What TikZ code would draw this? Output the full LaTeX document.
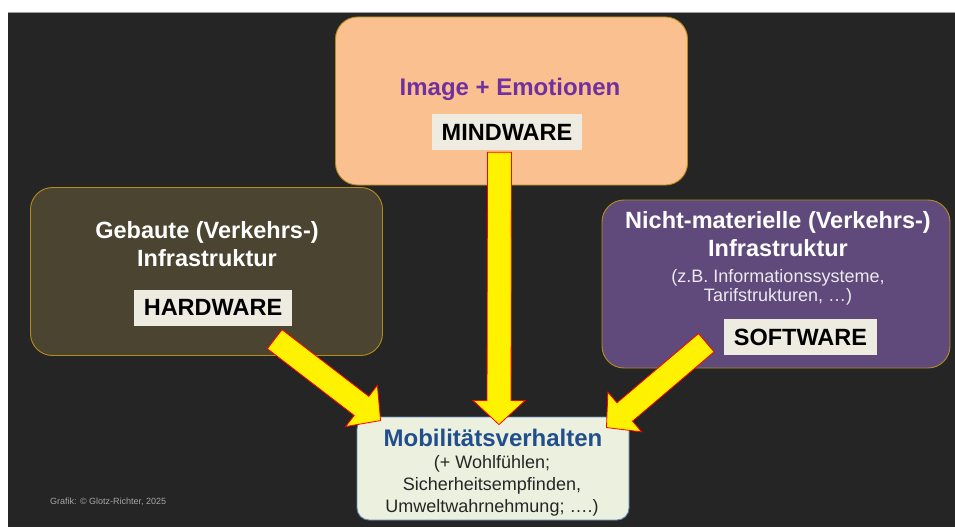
\documentclass[tikz,border=0pt]{standalone}
\usepackage{fontspec}
\setmainfont{Liberation Sans}
\usetikzlibrary{positioning, calc}
\definecolor{bgdark}{RGB}{37,37,37}
\definecolor{mwfill}{RGB}{250,192,144}
\definecolor{hwfill}{RGB}{74,68,48}
\definecolor{swfill}{RGB}{96,74,123}
\definecolor{mbfill}{RGB}{235,241,222}
\definecolor{tagfill}{RGB}{238,236,225}
\definecolor{goldline}{RGB}{180,140,30}
\definecolor{mwtext}{RGB}{112,48,160}
\definecolor{mbtext}{RGB}{33,78,140}
\definecolor{mbline}{RGB}{100,135,180}

% fat block arrow: #1 start, #2 tip
\newcommand\fatarrow[2]{%
  \path ($(#2)!24pt!(#1)$) coordinate (hb);
  \draw[fat] ($(#1)!12pt!90:(#2)$) -- ($(hb)!12pt!90:(#2)$)
    -- ($(hb)!26pt!90:(#2)$) -- (#2) -- ($(hb)!26pt!-90:(#2)$)
    -- ($(hb)!12pt!-90:(#2)$) -- ($(#1)!12pt!-90:(#2)$) -- cycle;}

\begin{document}
\begin{tikzpicture}[
  x=1pt, y=-1pt,
  every node/.style={inner sep=0pt},
  box/.style={rectangle, rounded corners=22pt, draw=goldline, line width=0.9pt,
              minimum width=352pt, minimum height=168pt},
  tag/.style={rectangle, fill=tagfill, text=black,
              font=\bfseries\fontsize{23.5}{26}\selectfont,
              minimum height=36pt},
  title/.style={text=white, font=\bfseries\fontsize{23.5}{28}\selectfont, align=center},
  sub/.style={font=\fontsize{18}{21.5}\selectfont, align=center},
  fat/.style={fill=yellow, draw=red, line width=0.8pt, line join=miter},
]
\useasboundingbox (0,0) rectangle (955,527);
\fill[white] (0,0) rectangle (955,527);
\fill[bgdark] (8,12) rectangle (955,527);
\draw[gray!75, line width=1pt] (8,12.5) -- (955,12.5);

% ── Mindware (top) ──
\node[box, fill=mwfill] (mwbox) at (511.5,101) {};
\node[text=mwtext, font=\bfseries\fontsize{24}{28}\selectfont] (mwtitle) at (510,89) {Image + Emotionen};
\node[tag, minimum width=150pt] (mw) at (507,132) {MINDWARE};

% ── Hardware (left) ──
\node[box, fill=hwfill] (hwbox) at (206.5,271.5) {};
\node[title] (hwtitle) at (207,244) {Gebaute (Verkehrs-)\\Infrastruktur};
\node[tag, minimum width=158pt] (hw) at (213,307.5) {HARDWARE};

% ── Software (right) ──
\node[box, fill=swfill, minimum width=348pt] (swbox) at (776,284) {};
\node[title] (swtitle) at (778,234.5) {Nicht-materielle (Verkehrs-)\\Infrastruktur};
\node[sub, text=white!88!swfill] (swsub) at (778,287) {(z.B. Informationssysteme,\\[-2.5pt]Tarifstrukturen, …)};
\node[tag, minimum width=153pt] (sw) at (800.5,337) {SOFTWARE};

% ── Mobilitaetsverhalten (bottom) ──
\node[rectangle, rounded corners=12pt, draw=mbline, line width=0.9pt, fill=mbfill,
      minimum width=272pt, minimum height=103pt] (mob) at (493,468.5) {};
\node[text=mbtext, font=\bfseries\fontsize{24}{28}\selectfont] (mobtitle) at (493,437.5) {Mobilitätsverhalten};
\node[sub, text=black!85, font=\fontsize{18}{22}\selectfont] (mobsub) at (492,485.5) {(+ Wohlfühlen;\\Sicherheitsempfinden,\\Umweltwahrnehmung; ….)};

% ── arrows ──
\coordinate (mwout) at ($(mw.south)+(-7.5,2)$);
\coordinate (mwin)  at ($(mob.north)+(6,8)$);
\coordinate (hwout) at ($(hw.south east)+(-17.5,13.5)$);
\coordinate (hwin)  at ($(mob.north west)+(24,4)$);
\coordinate (swout) at ($(sw.south west)+(-17.5,-12.5)$);
\coordinate (swin)  at ($(mob.north east)+(-23,11)$);
\fatarrow{mwout}{mwin}
\fatarrow{hwout}{hwin}
\fatarrow{swout}{swin}

\node[text=gray!70, font=\fontsize{9}{10}\selectfont, anchor=west] (credit) at (50,502) {Grafik: © Glotz-Richter, 2025};
\end{tikzpicture}
\end{document}
